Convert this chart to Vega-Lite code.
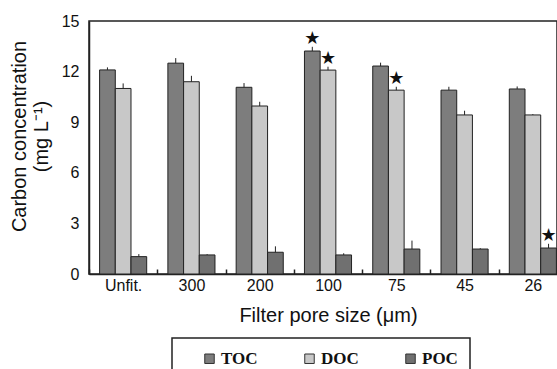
{
  "$schema": "https://vega.github.io/schema/vega-lite/v6.json",
  "autosize": {"type": "none"},
  "padding": {"left": 89, "top": 21, "right": 0, "bottom": 95},
  "width": 468,
  "height": 253,
  "background": "white",
  "config": {
    "font": "Liberation Sans",
    "view": {"stroke": "#222", "strokeWidth": 1.5}
  },
  "data": {
    "values": [
      {"size": "Unfit.", "type": "TOC", "value": 12.1, "hi": 12.25, "sig": ""},
      {"size": "Unfit.", "type": "DOC", "value": 11.0, "hi": 11.3, "sig": ""},
      {"size": "Unfit.", "type": "POC", "value": 1.03, "hi": 1.18, "sig": ""},
      {"size": "300", "type": "TOC", "value": 12.5, "hi": 12.8, "sig": ""},
      {"size": "300", "type": "DOC", "value": 11.4, "hi": 11.75, "sig": ""},
      {"size": "300", "type": "POC", "value": 1.13, "hi": 1.18, "sig": ""},
      {"size": "200", "type": "TOC", "value": 11.07, "hi": 11.32, "sig": ""},
      {"size": "200", "type": "DOC", "value": 9.96, "hi": 10.21, "sig": ""},
      {"size": "200", "type": "POC", "value": 1.29, "hi": 1.64, "sig": ""},
      {"size": "100", "type": "TOC", "value": 13.22, "hi": 13.47, "sig": "★"},
      {"size": "100", "type": "DOC", "value": 12.09, "hi": 12.29, "sig": "★"},
      {"size": "100", "type": "POC", "value": 1.13, "hi": 1.23, "sig": ""},
      {"size": "75", "type": "TOC", "value": 12.33, "hi": 12.53, "sig": ""},
      {"size": "75", "type": "DOC", "value": 10.9, "hi": 11.1, "sig": "★"},
      {"size": "75", "type": "POC", "value": 1.48, "hi": 1.98, "sig": ""},
      {"size": "45", "type": "TOC", "value": 10.9, "hi": 11.1, "sig": ""},
      {"size": "45", "type": "DOC", "value": 9.43, "hi": 9.68, "sig": ""},
      {"size": "45", "type": "POC", "value": 1.48, "hi": 1.53, "sig": ""},
      {"size": "26", "type": "TOC", "value": 10.97, "hi": 11.12, "sig": ""},
      {"size": "26", "type": "DOC", "value": 9.43, "hi": 9.48, "sig": ""},
      {"size": "26", "type": "POC", "value": 1.54, "hi": 1.79, "sig": "★"}
    ]
  },
  "encoding": {
    "x": {
      "field": "size",
      "type": "nominal",
      "sort": ["Unfit.", "300", "200", "100", "75", "45", "26"],
      "scale": {"range": [0, 478], "paddingInner": 0, "paddingOuter": 0},
      "axis": {
        "title": "Filter pore size (μm)",
        "titleFontSize": 20,
        "titleFontWeight": "normal",
        "titleColor": "#111",
        "titlePadding": 12,
        "titleX": 239,
        "labelFontSize": 16,
        "labelColor": "#111",
        "labelAngle": 0,
        "labelPadding": 8,
        "tickBand": "extent",
        "tickSize": -5,
        "tickColor": "#222",
        "tickWidth": 1.5,
        "domainColor": "#222",
        "domainWidth": 1.5
      }
    },
    "xOffset": {
      "field": "type",
      "type": "nominal",
      "sort": ["TOC", "DOC", "POC"],
      "scale": {"paddingInner": 0, "paddingOuter": 0.675}
    }
  },
  "layer": [
    {
      "mark": {"type": "bar", "stroke": "#222", "strokeWidth": 1},
      "encoding": {
        "y": {
          "field": "value",
          "type": "quantitative",
          "scale": {"domain": [0, 15], "nice": false},
          "axis": {
            "values": [0, 3, 6, 9, 12, 15],
            "title": ["Carbon concentration", "(mg L⁻¹)"],
            "titleFontSize": 20,
            "titleFontWeight": "normal",
            "titleColor": "#111",
            "titleLineHeight": 22,
            "titlePadding": 10,
            "titleY": 115,
            "labelFontSize": 16,
            "labelColor": "#111",
            "labelPadding": 10,
            "ticks": false,
            "grid": false,
            "domainColor": "#222",
            "domainWidth": 1.5
          }
        },
        "color": {
          "field": "type",
          "type": "nominal",
          "sort": ["TOC", "DOC", "POC"],
          "scale": {"domain": ["TOC", "DOC", "POC"], "range": ["#7d7d7d", "#c8c8c8", "#707070"]},
          "legend": {
            "title": null,
            "orient": "none",
            "legendX": 83,
            "legendY": 317,
            "direction": "horizontal",
            "strokeColor": "#222",
            "fillColor": "white",
            "padding": 12,
            "symbolType": "square",
            "symbolSize": 90,
            "symbolStrokeColor": "#333",
            "symbolStrokeWidth": 1,
            "symbolOffset": 17,
            "labelFont": "Liberation Serif",
            "labelFontWeight": "bold",
            "labelFontSize": 17,
            "labelColor": "#111",
            "labelOffset": 3,
            "columnPadding": 26,
            "encode": {"legend": {"update": {"strokeWidth": {"value": 1.5}}}}
          }
        }
      }
    },
    {
      "mark": {"type": "rule", "color": "#222", "strokeWidth": 1},
      "encoding": {
        "y": {"field": "value", "type": "quantitative"},
        "y2": {"field": "hi"}
      }
    },
    {
      "mark": {"type": "text", "font": "DejaVu Sans", "fontSize": 18, "baseline": "bottom", "dy": 1, "color": "#111"},
      "encoding": {
        "y": {"field": "hi", "type": "quantitative"},
        "text": {"field": "sig"}
      }
    }
  ]
}
